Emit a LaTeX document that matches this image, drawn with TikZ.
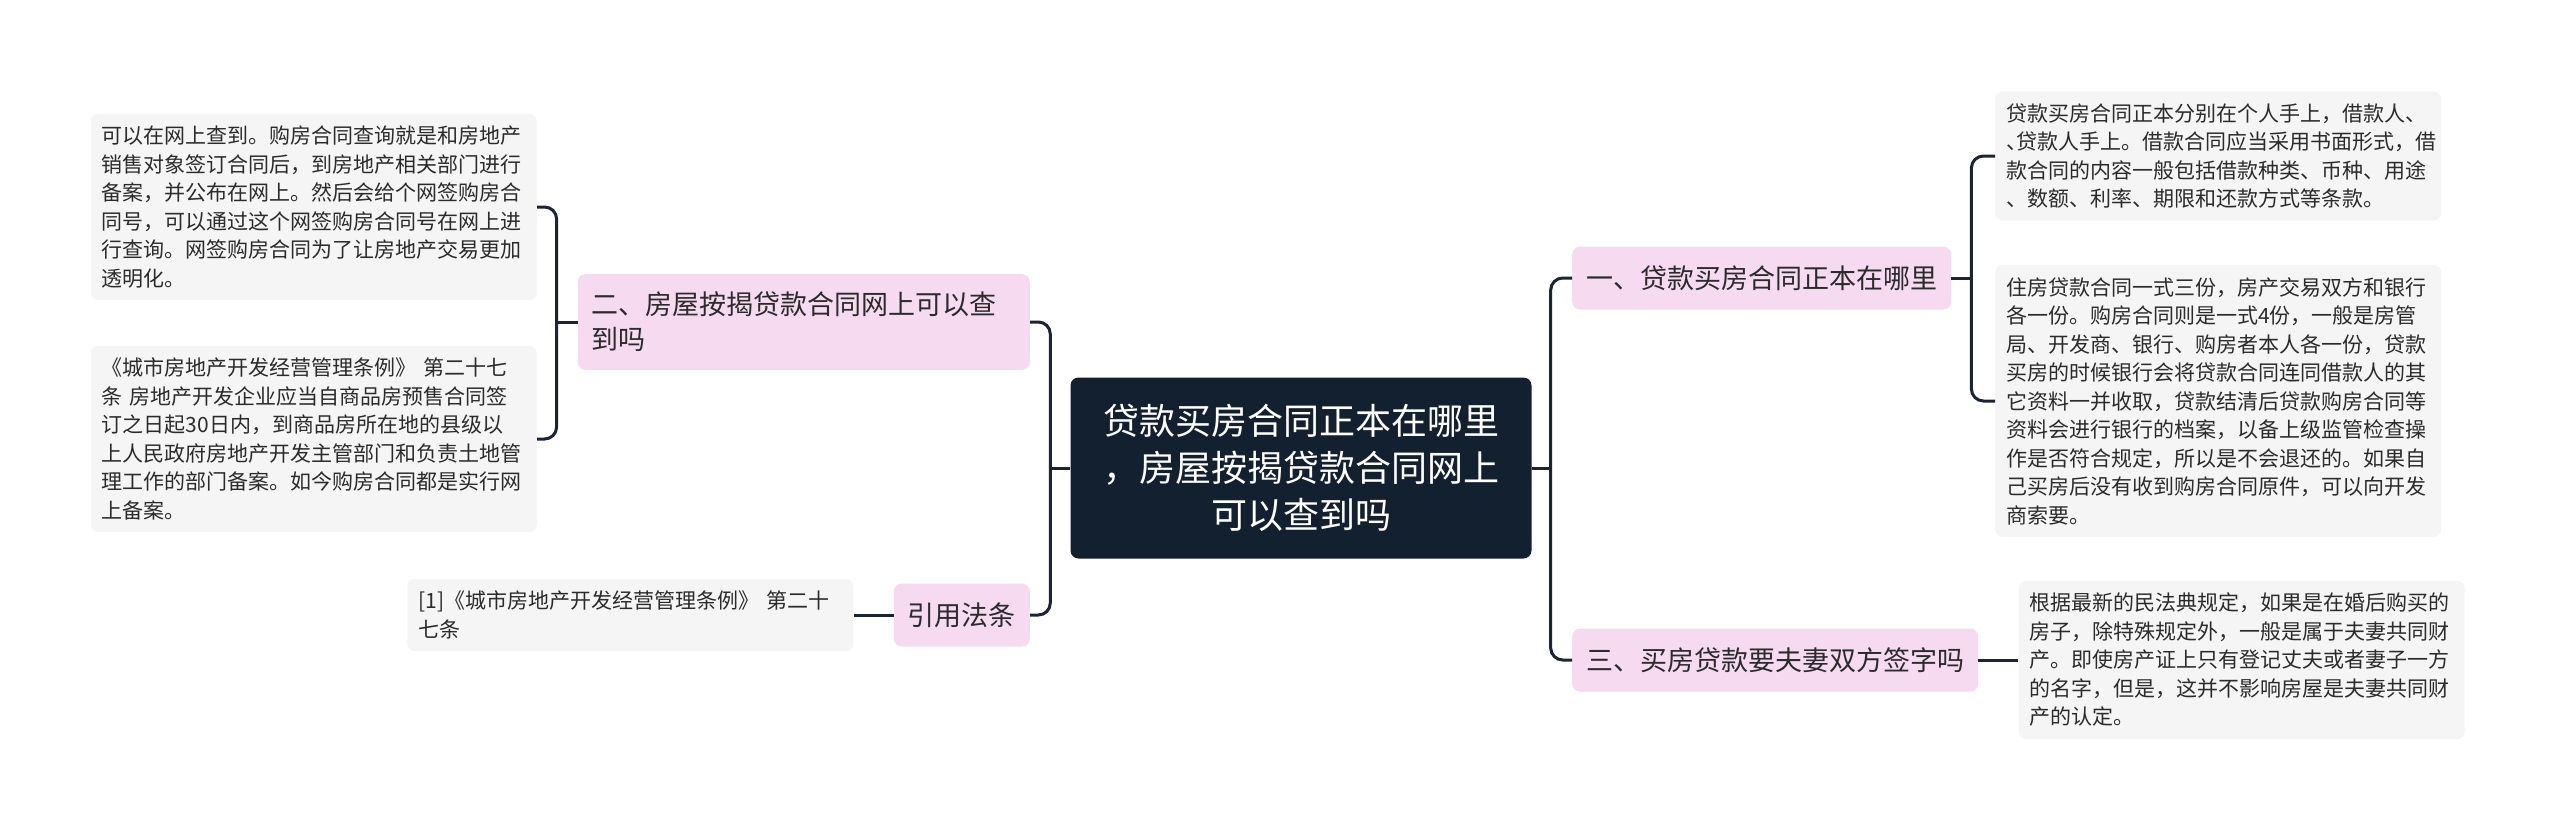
\documentclass[tikz,border=0pt]{standalone}
\usepackage{fontspec}
\setmainfont{Noto Sans CJK SC}
\usetikzlibrary{positioning}
\definecolor{rootbg}{HTML}{13202F}
\definecolor{pinkbg}{HTML}{F6DAEF}
\definecolor{leafbg}{HTML}{F5F5F5}
\definecolor{linkc}{HTML}{1B2433}
\definecolor{txt}{HTML}{2B2B2B}

\begin{document}
\begin{tikzpicture}[x=1pt,y=-1pt,node distance=40pt,
  rootbox/.style={fill=rootbg,text=white,rounded corners=8pt,align=center,minimum width=461pt,minimum height=181pt,font=\fontsize{36}{47}\selectfont},
  topic/.style={fill=pinkbg,text=txt,rounded corners=8pt,inner xsep=14pt,inner ysep=18pt,minimum height=63pt,align=left,font=\fontsize{27}{35}\selectfont},
  leaf/.style={fill=leafbg,text=txt,rounded corners=7pt,inner xsep=11pt,inner ysep=12pt,text width=424pt,align=left,font=\fontsize{21}{28.5}\selectfont},
  link/.style={draw=linkc,line width=3pt,rounded corners=12pt}]
\useasboundingbox (0,0) rectangle (2560,830);
\node[rootbox] (root) at (1301,468) {贷款买房合同正本在哪里\\，房屋按揭贷款合同网上\\可以查到吗};
% right side
\node[topic,anchor=west] (b1) at (1572,278) {一、贷款买房合同正本在哪里};
\node[topic,anchor=west] (b3) at (1572,660) {三、买房贷款要夫妻双方签字吗};
\node[leaf,anchor=west] (c1) at (1995,156) {贷款买房合同正本分别在个人手上，借款人、\\{\addfontfeature{RawFeature=+halt}、}贷款人手上。借款合同应当采用书面形式，借\\款合同的内容一般包括借款种类、币种、用途\\、数额、利率、期限和还款方式等条款。};
\node[leaf,anchor=west] (c2) at (1995,401) {住房贷款合同一式三份，房产交易双方和银行\\各一份。购房合同则是一式4份，一般是房管\\局、开发商、银行、购房者本人各一份，贷款\\买房的时候银行会将贷款合同连同借款人的其\\它资料一并收取，贷款结清后贷款购房合同等\\资料会进行银行的档案，以备上级监管检查操\\作是否符合规定，所以是不会退还的。如果自\\己买房后没有收到购房合同原件，可以向开发\\商索要。};
\node[leaf,right=40pt of b3] (c3) {根据最新的民法典规定，如果是在婚后购买的\\房子，除特殊规定外，一般是属于夫妻共同财\\产。即使房产证上只有登记丈夫或者妻子一方\\的名字，但是，这并不影响房屋是夫妻共同财\\产的认定。};
% left side
\node[topic,anchor=east,text width=424pt] (b2) at (1030,322) {二、房屋按揭贷款合同网上可以查\\到吗};
\node[topic,anchor=east] (cite) at (1030,615) {引用法条};
\node[leaf,anchor=east] (a1) at (537,207) {可以在网上查到。购房合同查询就是和房地产\\销售对象签订合同后，到房地产相关部门进行\\备案，并公布在网上。然后会给个网签购房合\\同号，可以通过这个网签购房合同号在网上进\\行查询。网签购房合同为了让房地产交易更加\\透明化。};
\node[leaf,anchor=east] (a2) at (537,439) {《城市房地产开发经营管理条例》 第二十七\\条 房地产开发企业应当自商品房预售合同签\\订之日起30日内，到商品房所在地的县级以\\上人民政府房地产开发主管部门和负责土地管\\理工作的部门备案。如今购房合同都是实行网\\上备案。};
\node[leaf,left=40pt of cite] (ref) {[1]《城市房地产开发经营管理条例》 第二十\\七条};
% connectors
\coordinate (rj) at ([xshift=19pt]root.east);
\coordinate (lj) at ([xshift=-20pt]root.west);
\coordinate (j1) at ([xshift=20pt]b1.east);
\coordinate (j2) at ([xshift=-21pt]b2.west);
\draw[link] (root.east) -- (rj);
\draw[link] (rj) |- (b1.west);
\draw[link] (rj) |- (b3.west);
\draw[link] (root.west) -- (lj);
\draw[link] (lj) |- (b2.east);
\draw[link] (lj) |- (cite.east);
\draw[link] (b1.east) -- (j1);
\draw[link] (j1) |- (c1.west);
\draw[link] (j1) |- (c2.west);
\draw[link] (b3) -- (c3);
\draw[link] (b2.west) -- (j2);
\draw[link] (j2) |- (a1.east);
\draw[link] (j2) |- (a2.east);
\draw[link] (cite) -- (ref);
\end{tikzpicture}
\end{document}
